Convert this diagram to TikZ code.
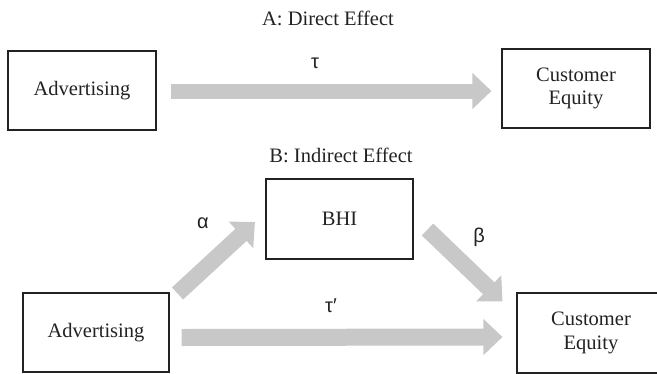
\documentclass[tikz,border=0pt]{standalone}
\usepackage{fontspec}
\setmainfont{Liberation Serif}
\newfontfamily\greekfont{Liberation Sans}
\usetikzlibrary{arrows.meta,calc}
\definecolor{arrowgray}{HTML}{C8C8C8}
\definecolor{ink}{HTML}{222222}
\begin{document}
\begin{tikzpicture}[x=1pt,y=-1pt,
  txt/.style={font=\fontsize{20.5pt}{23.5pt}\selectfont, text=ink, inner sep=0pt},
  greek/.style={font=\greekfont\fontsize{20pt}{24pt}\selectfont, text=ink, inner sep=0pt},
  box/.style={txt, draw=ink, line width=1.1pt, minimum width=148pt, minimum height=79pt, align=center},
  bigarrow/.style={draw=arrowgray, line width=16pt, -{Triangle[length=19pt,width=35pt]}}
]
\useasboundingbox (0,0) rectangle (657,373);
% titles
\node[txt] (titleA) at (328,18) {A: Direct Effect};
\node[txt] (titleB) at (341,155) {B: Indirect Effect};
% panel A
\node[box] (a1) at (82,90.5) {Advertising};
\node[box] (a2) at (576,88.5) {Customer\\Equity};
\draw[bigarrow, line width=15pt] ($(a1.east)+(14,0.5)$) -- ($(a2.west)+(-10,2.5)$);
\node[greek] (tau) at (315,63) {τ};
% panel B
\node[box, minimum width=147pt, minimum height=80pt] (bhi) at (339.5,219) {BHI};
\node[box, minimum width=146pt] (b1) at (96,332.5) {Advertising};
\node[box, minimum height=80pt] (b2) at (591,333) {Customer\\Equity};
\draw[bigarrow, line width=16.5pt] ($(b1.north east)+(8,1)$) -- ($(bhi.west)+(-10.5,3)$);
\draw[bigarrow, line width=16.5pt] ($(bhi.east)+(14,10.5)$) -- ($(b2.north west)+(-14,9)$);
\draw[bigarrow, line width=17pt] ($(b1.east)+(12,5)$) -- ($(b2.west)+(-14,4)$);
\node[greek] (alpha) at (203,223) {α};
\node[greek] (beta) at (479,237) {β};
\node[greek] (taup) at (331,306) {τ′};
\end{tikzpicture}
\end{document}
